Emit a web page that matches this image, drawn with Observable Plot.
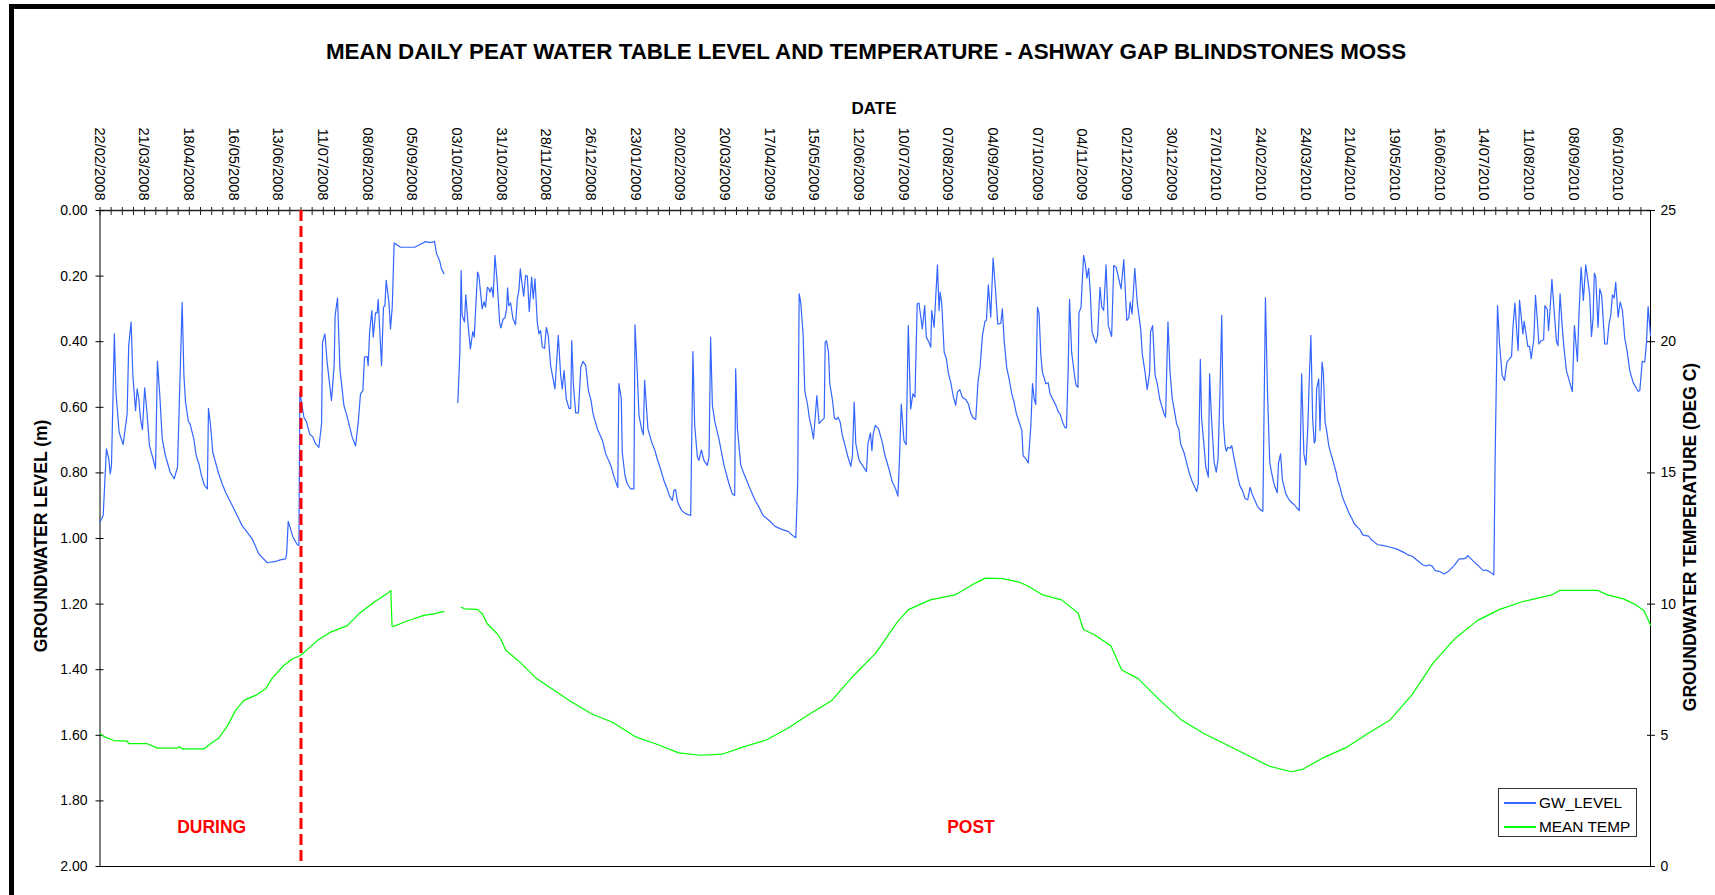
<!DOCTYPE html>
<html>
<head>
<meta charset="utf-8">
<script src="https://cdn.jsdelivr.net/npm/d3@7"></script>
<script src="https://cdn.jsdelivr.net/npm/@observablehq/plot@0.6"></script>
<style>
html,body{margin:0;padding:0;background:#fff;overflow:hidden;}
#wrap{position:relative;width:1715px;height:895px;overflow:hidden;font-family:"Liberation Sans",Arial,sans-serif;color:#000;background:#fff;}
#frame{position:absolute;left:9px;top:4px;width:2000px;height:2000px;border-left:5px solid #000;border-top:5px solid #000;pointer-events:none;}
#chart{position:absolute;left:0;top:0;}
.t{position:absolute;white-space:nowrap;font-weight:bold;}
#title{left:0;width:1732px;text-align:center;top:41px;font-size:22.4px;line-height:22px;}
#date{left:0;width:1748px;text-align:center;top:100px;font-size:17px;line-height:17px;}
.vt{position:absolute;white-space:nowrap;font-weight:bold;font-size:17.5px;line-height:17.5px;transform:translate(-50%,-50%) rotate(-90deg);}
#legend{position:absolute;left:1498px;top:788px;width:137px;height:47px;border:1px solid #333;background:#fff;}
#legend .sw{position:absolute;left:5px;width:32px;height:1.5px;}
#legend .lt{position:absolute;left:40px;font-size:15.4px;line-height:15px;}
</style>
</head>
<body>
<div id="wrap">
  <div id="chart"></div>
  <div class="t" id="title"></div>
  <div class="t" id="date"></div>
  <div class="vt" id="ytitle" style="left:41.5px;top:536px;"></div>
  <div class="vt" id="y2title" style="left:1691px;top:537px;"></div>
  <div id="legend"></div>
  <div id="frame"></div>
</div>
<script>
// ---- DATA ----
const titleText = "MEAN DAILY PEAT WATER TABLE LEVEL AND TEMPERATURE - ASHWAY GAP BLINDSTONES MOSS";
const xTitle = "DATE";
const yTitle = "GROUNDWATER LEVEL (m)";
const y2Title = "GROUNDWATER TEMPERATURE (DEG C)";
const seriesNames = ["GW_LEVEL", "MEAN TEMP"];

// category-axis date labels (every 28th daily category)
const dateLabels = ["22/02/2008","21/03/2008","18/04/2008","16/05/2008","13/06/2008","11/07/2008","08/08/2008","05/09/2008","03/10/2008","31/10/2008","28/11/2008","26/12/2008","23/01/2009","20/02/2009","20/03/2009","17/04/2009","15/05/2009","12/06/2009","10/07/2009","07/08/2009","04/09/2009","07/10/2009","04/11/2009","02/12/2009","30/12/2009","27/01/2010","24/02/2010","24/03/2010","21/04/2010","19/05/2010","16/06/2010","14/07/2010","11/08/2010","08/09/2010","06/10/2010"];
const lastCategory = 972;
const levelTicks = [0,0.2,0.4,0.6,0.8,1.0,1.2,1.4,1.6,1.8,2.0];
const tempTicks = [0,5,10,15,20,25];

// groundwater level [category index, metres below surface]; NaN = missing data
const gwPoints = [[0,0.95],[2,0.93],[4,0.727],[5.5,0.757],[6.4,0.803],[7.2,0.777],[9,0.376],[10,0.554],[12,0.676],[14.5,0.714],[17,0.62],[18,0.412],[19.5,0.34],[20.6,0.503],[22.3,0.61],[23.3,0.544],[24.3,0.574],[25.4,0.635],[26.6,0.668],[28,0.541],[29.6,0.625],[31,0.717],[32.7,0.747],[34.8,0.788],[36,0.46],[37.5,0.564],[39,0.696],[41,0.747],[44,0.798],[46.5,0.818],[48.6,0.782],[51.5,0.28],[52.6,0.503],[53.6,0.584],[55.3,0.64],[56.7,0.655],[58.8,0.696],[60.3,0.747],[62,0.772],[63.6,0.808],[65.5,0.838],[67.3,0.849],[68,0.603],[69.3,0.655],[70.7,0.737],[72.4,0.767],[74.1,0.798],[76.6,0.833],[78.7,0.859],[81.8,0.889],[85,0.92],[89,0.96],[95.4,1.001],[99.6,1.047],[104.8,1.074],[110,1.07],[113,1.065],[116.3,1.062],[117,1.047],[118,0.948],[121,0.996],[123.7,1.019],[124.7,1.021],[125.3,0.554],[127.8,0.63],[129.5,0.645],[131.4,0.681],[133.5,0.691],[135.1,0.711],[137.2,0.722],[138.9,0.65],[139.5,0.402],[141,0.376],[142.4,0.463],[145.1,0.579],[146.8,0.473],[147.4,0.32],[148.9,0.267],[150.4,0.483],[152.9,0.594],[155,0.63],[158.1,0.691],[160.2,0.718],
[161.9,0.645],[163.3,0.559],[164.8,0.549],[165.8,0.447],[167.5,0.445],[168.1,0.473],[169,0.371],[170.4,0.305],[171.3,0.386],[172.7,0.312],[173.8,0.312],[174.4,0.271],[176.5,0.473],[177.7,0.295],[178.6,0.29],[179.4,0.213],[181.1,0.278],[182.1,0.361],[183.2,0.295],[184.4,0.099],[186.3,0.105],[188.4,0.112],[197.4,0.112],[199.9,0.105],[204.1,0.095],[206.2,0.097],[208.3,0.097],[209.7,0.094],[211,0.132],[212.9,0.153],[214.1,0.178],[215.6,0.193],[220,NaN],
[224.3,0.586],[225.6,0.432],[226.4,0.183],[227,0.32],[228.5,0.34],[229.3,0.257],[230.8,0.351],[232.2,0.422],[233.7,0.369],[234.6,0.386],[235.4,0.31],[236.7,0.188],[237.5,0.198],[239.6,0.3],[240.7,0.278],[241.7,0.295],[242.8,0.234],[243.8,0.239],[244.4,0.249],[245.5,0.234],[246.5,0.264],[247.6,0.137],[249,0.219],[250.5,0.34],[251.3,0.358],[252.8,0.33],[253.8,0.328],[254.9,0.3],[255.5,0.236],[256.3,0.29],[257.4,0.282],[258.9,0.33],[260.5,0.348],[261.6,0.269],[262.6,0.244],[263.5,0.178],[264.3,0.213],[265.6,0.261],[266.8,0.198],[267.9,0.2],[269.1,0.308],[270.6,0.203],[271.6,0.269],[272.7,0.208],[274.1,0.34],[275.2,0.376],[276.2,0.366],[277.3,0.417],[278.7,0.42],[279.8,0.356],[281,0.381],[282.5,0.473],[285.2,0.544],[287.3,0.381],[288.8,0.503],[289.8,0.544],[290.9,0.488],[292.3,0.574],[294,0.603],[295.1,0.603],[295.7,0.397],[296.8,0.534],[298.2,0.617],[299.9,0.617],[301.4,0.478],[302.8,0.46],[304.5,0.473],[306.2,0.549],[307.8,0.579],[309.1,0.62],[311.8,0.666],[315,0.701],[317,0.742],[320.2,0.777],[322.3,0.813],[324.6,0.845],[325.3,0.528],[326.8,0.574],[327.4,0.737],[329.1,0.808],[330.5,0.833],[332.6,0.849],[334.7,0.849],
[335.4,0.349],[336.8,0.493],[337.9,0.625],[339.5,0.666],[340.6,0.684],[341.4,0.518],[342.5,0.595],[343.5,0.666],[345.8,0.706],[347.9,0.732],[349.3,0.757],[351.4,0.788],[353.5,0.823],[355.6,0.849],[357.3,0.874],[358.8,0.884],[359.8,0.854],[360.8,0.851],[362.1,0.889],[364.6,0.915],[367.5,0.925],[370.3,0.93],[371.7,0.43],[372.8,0.655],[374.5,0.752],[375.5,0.762],[377,0.73],[378.6,0.762],[380.7,0.777],[381.8,0.752],[382.8,0.387],[383.9,0.594],[385.5,0.645],[388,0.696],[391.2,0.777],[394.3,0.833],[396.4,0.864],[397.9,0.869],[398.5,0.483],[399.6,0.666],[401.7,0.777],[403.3,0.798],[405.8,0.828],[408,0.854],[410.7,0.884],[413.2,0.905],[415.7,0.93],[419.5,0.945],[423.2,0.963],[427.8,0.973],[431.6,0.979],[433.7,0.989],[436.2,0.998],[437.4,0.828],[438.3,0.254],[439.3,0.28],[440.8,0.381],[441.8,0.549],[443.5,0.59],[444.6,0.63],[446,0.661],[447.3,0.696],[449.4,0.564],[450.8,0.65],[452.5,0.64],[454,0.633],[454.6,0.402],[455.4,0.397],[456.7,0.432],[457.5,0.528],[459.2,0.579],[460.4,0.633],[461.7,0.637],[462.7,0.63],[464,0.645],[465.4,0.686],[467.1,0.717],[468.6,0.747],[470.7,0.78],[471.7,0.747],[472.8,0.584],[473.8,0.711],[475.9,0.762],[478,0.777],[480.5,0.796],[481.4,0.711],[483,0.678],[483.9,0.732],[484.7,0.681],[486,0.655],[488.1,0.666],
[490.4,0.706],[492.1,0.747],[494.6,0.788],[496.7,0.828],[498.8,0.849],[500.2,0.871],[501.2,0.757],[502.3,0.59],[504,0.701],[505.4,0.714],[506.7,0.351],[508.2,0.605],[509.6,0.559],[510.9,0.569],[512.3,0.285],[513.4,0.282],[515.5,0.361],[517,0.29],[518,0.386],[519.7,0.402],[520.8,0.417],[521.4,0.305],[522.9,0.356],[525,0.166],[526,0.305],[526.7,0.249],[527.7,0.285],[529.2,0.432],[530.6,0.452],[531.9,0.498],[533.3,0.523],[534.8,0.564],[536.4,0.594],[537.5,0.554],[539,0.546],[540.6,0.569],[542.7,0.576],[544.4,0.59],[545.8,0.617],[547.5,0.633],[549,0.637],[550.4,0.523],[551.7,0.478],[553.2,0.381],[554.8,0.338],[555.7,0.335],[556.9,0.227],[558.4,0.325],[559.9,0.145],[561.5,0.249],[562.8,0.346],[564.7,0.344],[565.7,0.3],[566.8,0.396],[568.4,0.478],[569.9,0.513],[571.6,0.559],[573,0.584],[574.5,0.62],[576.2,0.645],[577.9,0.671],[578.7,0.747],[580.4,0.757],[581.9,0.77],[583.5,0.66],[584.6,0.528],[585.6,0.574],[586.6,0.592],[587.7,0.295],[588.7,0.315],[589.8,0.442],[590.8,0.493],[592.9,0.528],[594.4,0.525],[595.6,0.559],[597.1,0.574],[599.2,0.594],[600.9,0.615],[601.9,0.62],[603.4,0.645],[604.9,0.662],[605.9,0.662],[607,0.473],[607.8,0.271],[609.1,0.432],[610.7,0.493],[611.8,0.532],[613.1,0.539],[613.7,0.312],[615,0.295],[616.6,0.137],[617.7,0.163],[618.7,0.206],[619.8,0.176],[620.8,0.249],[621.9,0.369],[623.3,0.391],[624.4,0.404],[625.4,0.381],[626.9,0.234],[628,0.295],[629.2,0.305],[630.7,0.166],[632.1,0.351],[634.2,0.384],[635.5,0.168],[637,0.173],[640.1,0.239],[641.8,0.15],[643.7,0.335],[644.9,0.328],[645.8,0.279],[647,0.315],[648.7,0.176],[650.2,0.279],[652.4,0.361],
[653.4,0.437],[655.1,0.493],[656.5,0.546],[658,0.493],[658.6,0.369],[659.9,0.351],[661.4,0.501],[662.8,0.528],[664.3,0.574],[666,0.603],[667,0.62],[668,0.63],[669.5,0.34],[670.8,0.493],[672.2,0.574],[673.7,0.615],[674.9,0.65],[676.4,0.668],[677.4,0.711],[679.5,0.737],[680.6,0.757],[681.6,0.777],[682.7,0.798],[684.8,0.828],[686,0.84],[687.5,0.857],[688.5,0.833],[689.8,0.454],[690.6,0.635],[692.1,0.717],[693.2,0.782],[694.8,0.813],[695.6,0.498],[696.7,0.625],[698.4,0.767],[699.8,0.798],[700.9,0.757],[702.1,0.554],[703.2,0.32],[704.2,0.645],[705.3,0.717],[706.1,0.734],[707,0.722],[708.4,0.725],[709.5,0.717],[711,0.757],[713.1,0.808],[714.5,0.838],[716.2,0.854],[717.9,0.879],[719.5,0.882],[721,0.844],[722.5,0.867],[724,0.884],[725.6,0.902],[727.3,0.912],[729,0.917],[730.6,0.266],[731.9,0.554],[733.3,0.767],[734.4,0.798],[735.7,0.828],[736.7,0.844],[738,0.861],[738.8,0.77],[740.1,0.742],[741.3,0.823],[743.4,0.864],[745.1,0.879],[746.6,0.889],[748.7,0.897],[750.3,0.907],[751.8,0.915],[753.3,0.498],[754.7,0.742],[756,0.776],[757.2,0.656],[758.1,0.513],[759.1,0.381],[760.2,0.635],[761.2,0.709],[761.9,0.701],[762.7,0.544],[764,0.513],[764.8,0.671],[766.1,0.462],[766.9,0.493],[768,0.645],[769,0.671],[770.3,0.717],[771.7,0.742],[773.2,0.767],[774.9,0.798],[775.9,0.823],[777.4,0.844],[778.6,0.869],[780.1,0.889],[781.5,0.905],[783.2,0.925],[784.9,0.94],[786.3,0.955],[788.4,0.966],[789.9,0.973],[791.6,0.989],[793.7,0.991],[795.3,0.993],[796.8,1.003],[798.9,1.011],[801,1.019],[804.1,1.021],[808.3,1.026],[812.3,1.031],
[816.4,1.04],[819.6,1.049],[822.7,1.054],[825.9,1.067],[829.1,1.08],[831.6,1.084],[833.3,1.08],[835.3,1.085],[837,1.098],[839.5,1.1],[842.7,1.108],[845.8,1.098],[849,1.082],[852.1,1.062],[854.2,1.062],[856.3,1.06],[857.4,1.052],[859.5,1.062],[861.6,1.072],[864.3,1.084],[867.2,1.098],[868.9,1.096],[871,1.101],[873.1,1.108],[873.8,1.111],[874.6,0.757],[876.1,0.29],[877.3,0.402],[879,0.503],[880.5,0.518],[882,0.462],[883.6,0.452],[884.9,0.445],[885.7,0.361],[887,0.282],[888.2,0.371],[889,0.427],[889.9,0.274],[891.1,0.33],[892,0.376],[892.8,0.338],[894.1,0.381],[895.1,0.414],[896.2,0.414],[897.2,0.452],[898.9,0.391],[899.9,0.259],[901,0.33],[902,0.407],[903.5,0.397],[905,0.394],[905.8,0.29],[907.3,0.302],[908.1,0.366],[909,0.305],[910.2,0.21],[911.5,0.3],[913,0.397],[914,0.412],[915.3,0.254],[916.6,0.351],[917.8,0.422],[919.3,0.488],[921,0.518],[923,0.552],[924.3,0.351],[926.2,0.46],[927.2,0.31],[928.5,0.173],[929.9,0.274],[931.4,0.166],[932.9,0.219],[933.9,0.259],[935,0.384],[936,0.33],[936.8,0.191],[937.7,0.204],[939.1,0.356],[940.2,0.239],[941.4,0.259],[943.3,0.407],[944.8,0.407],[946,0.346],[947.1,0.32],[948.1,0.257],[949.2,0.267],[950.2,0.219],[951.7,0.325],[953,0.279],[954.4,0.305],[955.9,0.391],[957.3,0.427],[959,0.488],[961.1,0.524],[962.8,0.539],[964.2,0.551],[965.3,0.549],[966.8,0.46],[968.4,0.462],[969.5,0.402],[970.5,0.293],[972,0.381]];

// mean temperature [category index, deg C]; NaN = missing data
const tempPoints = [[0,5.06],[2.4,4.95],[8.7,4.8],[17,4.78],[18.1,4.68],[29.6,4.68],[35.9,4.51],[48.4,4.51],[49.8,4.57],[51.5,4.48],[65.1,4.48],[69.3,4.68],[74.5,4.9],[79.7,5.34],[85,5.95],[90.2,6.33],[97.5,6.52],[103.8,6.77],[108,7.18],[115.2,7.66],[120.5,7.91],[125.7,8.04],[136.2,8.61],[144.5,8.93],[155,9.18],[162.3,9.63],[171.7,10.07],[180,10.4],[182.3,10.52],[183.1,9.16],[184.2,9.15],[190.5,9.31],[196.7,9.44],[203,9.57],[209.3,9.63],[215.6,9.72],[220,NaN],[226.5,9.88],[228.5,9.82],[236.5,9.8],[239.6,9.63],[242.8,9.25],[249,8.87],[251.1,8.68],[254.4,8.24],[263.4,7.78],[273.7,7.16],[294.2,6.33],[308,5.82],[321.6,5.49],[335.4,4.95],[349.1,4.66],[362.8,4.33],[376.5,4.24],[390,4.28],[404,4.57],[417.7,4.82],[431.4,5.28],[445.1,5.82],[458.8,6.33],[472.5,7.28],[486.2,8.12],[499.9,9.32],[506.8,9.79],[520.5,10.16],[536,10.35],[549,10.81],[555,10.99],[566,10.97],[576,10.84],[582,10.68],[591,10.35],[602.8,10.16],[613.1,9.66],[616.5,9.03],[623.4,8.83],[633.7,8.41],[640.5,7.49],[650.8,7.16],[664.5,6.33],[678.3,5.57],[692,5.07],[705.6,4.66],[719.4,4.24],[733.1,3.82],[746.8,3.61],[753.7,3.7],[767.4,4.16],[781.1,4.53],[794.8,5.07],[808.5,5.57],[822.3,6.53],[836,7.78],[849.7,8.7],[863.4,9.37],[877.1,9.79],[890.9,10.08],[910,10.35],[915,10.52],[939,10.52],[945,10.35],[955,10.2],[962,10.0],[968,9.75],[972,9.2]];

// phase change marker and phase labels
const phaseChange = [126];
const phaseLabels = [{i: 70, v: 1.88, label: "DURING"}, {i: 546, v: 1.88, label: "POST"}];

// ---- CHART ----
const font = '"Liberation Sans", Arial, sans-serif';
const tempToLevel = t => 2 - t * 2 / 25;   // secondary axis 0..25 mapped on 2..0
const gw = gwPoints.map(([i, v]) => ({i, v}));
const temp = tempPoints.map(([i, t]) => ({i, v: tempToLevel(t)}));
const weekTicks = d3.range(0, lastCategory + 1, 7);
const labelTicks = dateLabels.map((d, k) => k * 28);

const chart = Plot.plot({
  width: 1715, height: 895,
  marginLeft: 99.5, marginRight: 65, marginTop: 210, marginBottom: 29,
  x: {domain: [0, lastCategory], axis: null},
  y: {domain: [0, 2], reverse: true, axis: null},
  style: {fontFamily: font, fontSize: "14px", background: "transparent", color: "#000"},
  marks: [
    Plot.ruleY([0], {stroke: "#222", strokeWidth: 1.3}),
    Plot.ruleY([2], {stroke: "#000", strokeWidth: 1}),
    Plot.ruleX([0, lastCategory], {stroke: "#000", strokeWidth: 1}),
    Plot.axisX({anchor: "top", ticks: weekTicks, tickSize: 8, dy: 4, tickFormat: () => "", label: null, stroke: "#222"}),
    Plot.text(labelTicks, {x: d => d, text: (d, k) => dateLabels[k], frameAnchor: "top", rotate: 90, textAnchor: "end", dy: -10, dx: 5, fill: "#000", fontSize: 14.6}),
    Plot.axisY({anchor: "left", ticks: levelTicks, tickSize: 8, dx: 4, tickPadding: 8.5, tickFormat: d3.format(".2f"), label: null, stroke: "#000", fill: "#000", fontSize: 14}),
    Plot.axisY({anchor: "right", ticks: tempTicks.map(tempToLevel), tickSize: 8, dx: -4, tickPadding: 6, tickFormat: v => String(Math.round((2 - v) * 25 / 2)), label: null, stroke: "#000", fill: "#000", fontSize: 14}),
    Plot.line(temp, {x: "i", y: "v", stroke: "#00FF00", strokeWidth: 1.2}),
    Plot.line(gw, {x: "i", y: "v", stroke: "#3366FF", strokeWidth: 1.2}),
    Plot.ruleX(phaseChange, {stroke: "#FF0000", strokeWidth: 3, strokeDasharray: "11,5"}),
    Plot.text(phaseLabels, {x: "i", y: "v", text: "label", fill: "#FF0000", fontWeight: "bold", fontSize: 17.5})
  ]
});
document.getElementById("chart").appendChild(chart);

document.getElementById("title").textContent = titleText;
document.getElementById("date").textContent = xTitle;
document.getElementById("ytitle").textContent = yTitle;
document.getElementById("y2title").textContent = y2Title;

const colors = ["#3366FF", "#00FF00"];
const legend = document.getElementById("legend");
seriesNames.forEach((name, k) => {
  const sw = document.createElement("div");
  sw.className = "sw";
  sw.style.top = (13 + k * 24) + "px";
  sw.style.background = colors[k];
  legend.appendChild(sw);
  const lt = document.createElement("div");
  lt.className = "lt";
  lt.style.top = (6 + k * 24) + "px";
  lt.textContent = name;
  legend.appendChild(lt);
});
</script>
</body>
</html>
